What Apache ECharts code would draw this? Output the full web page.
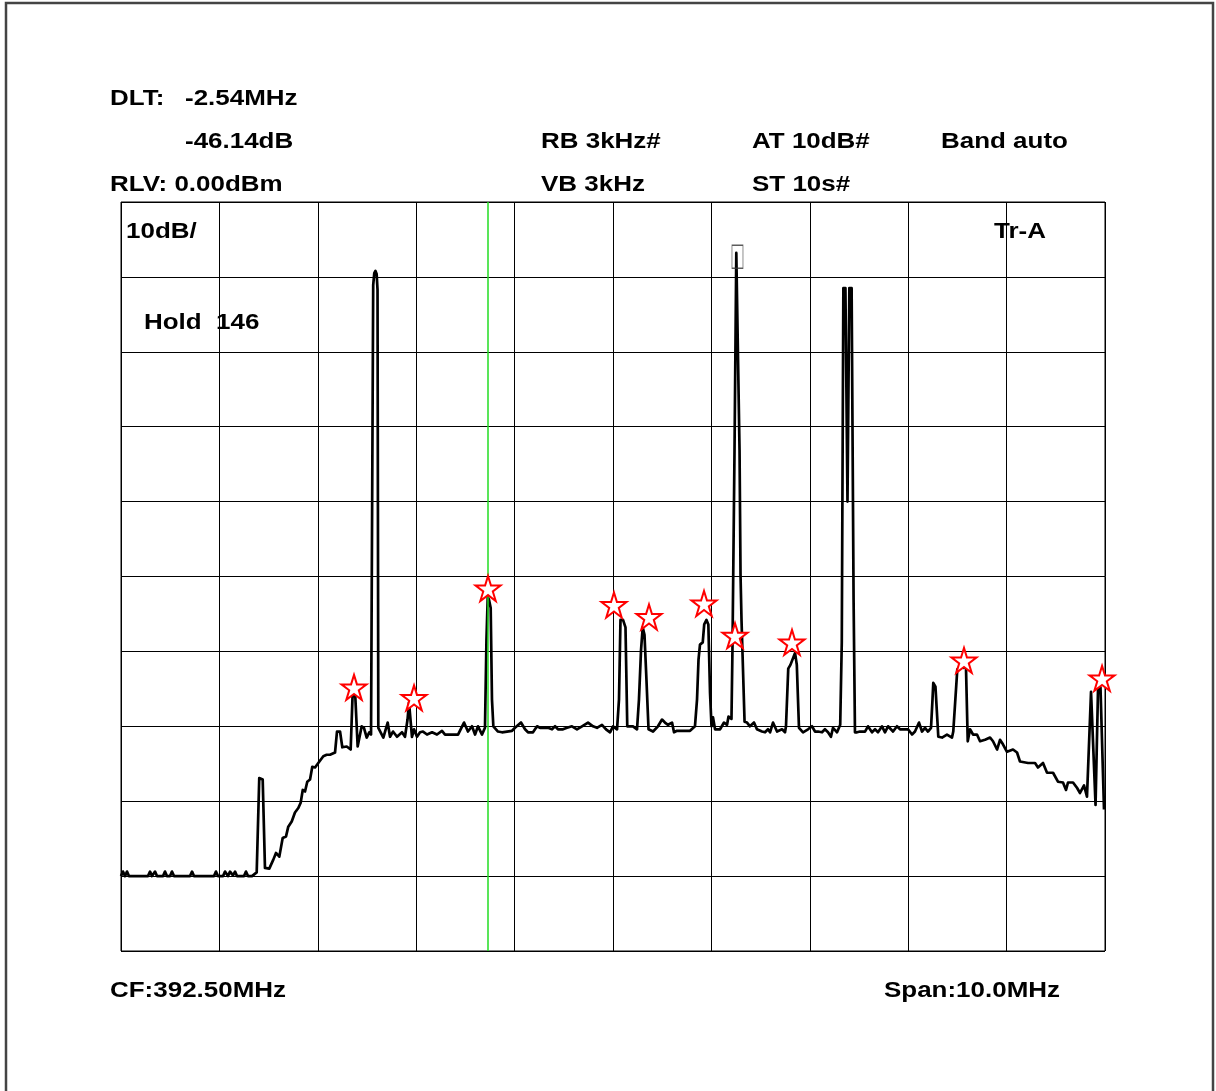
<!DOCTYPE html>
<html>
<head>
<meta charset="utf-8">
<script src="https://cdn.jsdelivr.net/npm/echarts@6/dist/echarts.min.js"></script>
<style>
html,body{margin:0;padding:0;background:#fff;}
#chart{width:1216px;height:1091px;}
</style>
</head>
<body>
<div id="chart"></div>
<script>
// ---- settings ----
const START_MHZ = 387.5;      // CF 392.50 MHz, span 10 MHz
const SPAN_MHZ = 10;
const REF_DBM = 0;
const DB_PER_DIV = 10;

// ---- trace (frequency in MHz, level in dBm) ----
const traceFreq = [
387.500,387.520,387.541,387.561,387.581,387.774,387.795,387.815,387.846,387.866,
387.927,387.947,387.967,387.998,388.018,388.039,388.201,388.222,388.242,388.445,
388.465,388.486,388.537,388.557,388.587,388.608,388.638,388.659,388.679,388.750,
388.770,388.791,388.831,388.879,388.905,388.940,388.963,389.007,389.048,389.075,
389.109,389.143,389.177,389.200,389.235,389.268,389.302,389.326,389.347,389.370,
389.393,389.421,389.444,389.472,389.505,389.556,389.590,389.624,389.675,389.695,
389.726,389.749,389.794,389.834,389.853,389.881,389.905,389.946,389.969,389.997,
390.023,390.041,390.054,390.063,390.074,390.086,390.098,390.107,390.115,390.166,
390.210,390.234,390.264,390.305,390.356,390.386,390.412,390.427,390.442,390.457,
390.478,390.508,390.539,390.569,390.610,390.661,390.711,390.762,390.793,390.925,
390.986,391.026,391.067,391.098,391.128,391.169,391.199,391.214,391.227,391.240,
391.257,391.270,391.284,391.301,391.331,391.372,391.423,391.474,391.504,391.565,
391.606,391.636,391.687,391.728,391.758,391.839,391.880,391.911,391.941,391.992,
392.033,392.083,392.134,392.185,392.246,392.297,392.337,392.388,392.429,392.470,
392.500,392.541,392.561,392.576,392.602,392.627,392.645,392.703,392.744,392.764,
392.785,392.802,392.820,392.840,392.861,392.907,392.957,392.998,393.028,393.059,
393.100,393.120,393.150,393.283,393.333,393.354,393.369,393.384,393.412,393.427,
393.450,393.469,393.486,393.501,393.516,393.537,393.588,393.628,393.659,393.674,
393.704,393.714,393.735,393.753,393.763,393.786,393.796,393.806,393.837,393.862,
393.892,393.933,393.963,394.014,394.045,394.075,394.096,394.126,394.167,394.218,
394.248,394.258,394.281,394.303,394.350,394.368,394.390,394.406,394.431,394.482,
394.522,394.553,394.583,394.624,394.654,394.685,394.715,394.736,394.777,394.797,
394.809,394.825,394.841,394.862,394.883,394.902,394.925,394.945,394.959,394.980,
395.010,395.061,395.091,395.132,395.163,395.193,395.234,395.264,395.295,395.346,
395.386,395.417,395.498,395.539,395.569,395.610,395.640,395.671,395.701,395.732,
395.747,395.755,395.777,395.806,395.844,395.894,395.945,395.958,395.999,396.026,
396.060,396.087,396.105,396.128,396.159,396.199,396.230,396.281,396.332,396.362,
396.403,396.433,396.463,396.504,396.565,396.606,396.636,396.718,396.789,396.819,
396.870,396.911,396.972,397.022,397.073,397.104,397.124,397.175,397.215,397.246,
397.287,397.317,397.337,397.358,397.378,397.404,397.429,397.454,397.490
];
const traceLevel = [
-90.0,-89.4,-90.0,-89.4,-90.0,-90.0,-89.4,-90.0,-89.4,-90.0,
-90.0,-89.4,-90.0,-90.0,-89.4,-90.0,-90.0,-89.4,-90.0,-90.0,
-89.4,-90.0,-90.0,-89.4,-90.0,-89.4,-89.9,-89.4,-90.0,-90.0,
-89.4,-90.0,-90.0,-89.5,-76.9,-77.1,-88.9,-89.0,-87.8,-86.9,
-87.4,-84.9,-84.7,-83.4,-82.7,-81.5,-80.9,-80.2,-78.5,-78.7,
-77.4,-77.1,-75.4,-75.5,-74.9,-74.0,-73.8,-73.8,-73.5,-70.7,
-70.7,-72.8,-72.7,-73.1,-66.0,-66.0,-72.7,-70.0,-70.2,-71.5,
-70.8,-71.1,-71.1,-11.1,-9.5,-9.2,-9.6,-11.7,-70.2,-71.5,
-69.5,-71.4,-70.7,-71.4,-70.8,-71.4,-69.1,-66.8,-66.8,-71.4,
-70.4,-71.4,-70.8,-70.7,-71.1,-70.8,-71.1,-70.6,-71.1,-71.1,
-69.5,-70.7,-70.0,-71.1,-70.0,-71.1,-70.2,-58.4,-52.7,-53.1,
-54.2,-66.4,-70.0,-70.0,-70.7,-70.8,-70.7,-70.6,-70.2,-69.5,
-70.4,-70.8,-70.8,-70.0,-70.2,-70.2,-70.4,-70.0,-70.4,-70.4,
-70.2,-70.0,-70.4,-70.0,-69.5,-70.0,-70.2,-69.8,-70.4,-70.8,
-70.0,-70.4,-66.4,-55.8,-55.8,-56.8,-70.0,-70.0,-70.4,-66.4,
-59.8,-56.8,-57.8,-63.8,-70.4,-70.7,-70.0,-69.1,-69.5,-69.8,
-69.5,-70.8,-70.6,-70.6,-70.0,-66.4,-61.1,-59.1,-58.8,-56.4,
-55.8,-56.4,-65.5,-70.0,-68.8,-70.4,-70.4,-69.5,-69.8,-68.7,
-69.0,-59.8,-33.1,-6.8,-6.8,-33.1,-49.8,-55.8,-69.4,-69.5,
-70.0,-69.5,-70.4,-70.7,-70.8,-70.4,-70.8,-69.5,-70.7,-70.4,
-70.8,-70.0,-62.3,-61.8,-60.2,-61.8,-70.2,-70.4,-70.8,-70.4,
-70.0,-70.7,-70.7,-70.8,-70.4,-70.8,-71.4,-70.2,-70.8,-70.7,
-69.8,-58.8,-11.5,-11.5,-40.0,-11.5,-11.5,-53.1,-70.8,-70.8,
-70.7,-70.7,-70.0,-70.8,-70.4,-70.8,-70.0,-70.8,-70.0,-70.7,
-70.0,-70.4,-70.4,-71.1,-70.7,-69.5,-70.7,-70.2,-70.7,-70.2,
-66.4,-64.2,-64.7,-71.4,-71.5,-71.1,-71.5,-70.7,-62.4,-62.0,
-62.2,-62.0,-72.0,-70.4,-71.1,-71.1,-72.0,-71.8,-71.5,-72.0,
-73.1,-71.8,-72.4,-73.4,-73.1,-73.5,-74.7,-74.9,-74.9,-75.5,
-74.9,-76.2,-76.2,-77.4,-77.5,-78.5,-77.5,-77.5,-78.2,-78.9,
-77.9,-79.4,-79.5,-65.4,-65.5,-80.5,-65.1,-64.8,-81.1
];

// ---- peak-search stars ----
const starFreq  = [389.868, 390.478, 391.230, 392.510, 392.866, 393.425, 393.740, 394.319, 396.067, 397.470];
const starLevel = [-64.8,   -66.2,   -51.6,   -53.8,   -55.4,   -53.6,   -57.9,   -58.8,   -61.2,   -63.6];

// ---- markers ----
const mainMarker = [393.765, -7.3];   // boxed peak
const deltaMarkerFreq = 391.230;      // green line

// ---- screen texts ----
const headerTexts = ['DLT:', '-2.54MHz', '-46.14dB', 'RLV: 0.00dBm', 'RB 3kHz#', 'VB 3kHz', 'AT 10dB#', 'ST 10s#', 'Band auto'];
const screenTexts = ['10dB/', 'Tr-A', 'Hold  146'];
const footerTexts = ['CF:392.50MHz', 'Span:10.0MHz'];

// ---- build ----
const rel = f => +(f - START_MHZ).toFixed(4);
const traceData = traceFreq.map((f, i) => [rel(f), traceLevel[i]]);
const starData = starFreq.map((f, i) => [rel(f), starLevel[i]]);

const FONT = 'bold 22px "Liberation Sans", Arial, Helvetica, sans-serif';
function txt(str, x, y) {
  return { type: 'text', x: x, y: y + 2, scaleX: 1.18, z: 100,
    style: { text: str, font: FONT, fill: '#000', align: 'left', verticalAlign: 'middle' } };
}
const starPath = 'path://M50,2 L61.2,36.4 L97.6,36.4 L68.2,57.6 L79.4,92 L50,70.8 L20.6,92 L31.8,57.6 L2.4,36.4 L38.8,36.4 Z';

const chart = echarts.init(document.getElementById('chart'), null, { renderer: 'canvas' });
chart.setOption({
  animation: false,
  backgroundColor: '#fff',
  grid: { left: 121, top: 202, width: 984, height: 749, show: true, borderColor: '#000', borderWidth: 1, backgroundColor: 'transparent' },
  xAxis: {
    type: 'value', min: 0, max: SPAN_MHZ, interval: 1,
    axisLine: { show: false }, axisTick: { show: false }, axisLabel: { show: false },
    splitLine: { show: true, lineStyle: { color: '#000', width: 1 } }
  },
  yAxis: {
    type: 'value', min: REF_DBM - 10 * DB_PER_DIV, max: REF_DBM, interval: DB_PER_DIV,
    axisLine: { show: false }, axisTick: { show: false }, axisLabel: { show: false },
    splitLine: { show: true, lineStyle: { color: '#000', width: 1 } }
  },
  series: [
    {
      type: 'line', data: traceData, showSymbol: false, symbol: 'none', smooth: false,
      lineStyle: { color: '#000', width: 2.7, join: 'round' }, z: 3, silent: true,
      markLine: {
        silent: true, symbol: 'none', animation: false,
        label: { show: false },
        lineStyle: { color: '#22dd22', width: 1.5, type: 'solid' },
        data: [{ xAxis: rel(deltaMarkerFreq) }]
      }
    },
    {
      type: 'scatter', data: starData, symbol: starPath, symbolSize: 25, z: 5, silent: true,
      itemStyle: { color: '#fff', borderColor: '#ff0000', borderWidth: 2, opacity: 1 }
    },
    {
      type: 'scatter', data: [[rel(mainMarker[0]), mainMarker[1]]], symbol: 'rect', symbolSize: [11, 23], z: 4, silent: true,
      itemStyle: { color: 'rgba(0,0,0,0)', borderColor: '#333', borderWidth: 1 }
    }
  ],
  graphic: [
    { type: 'rect', shape: { x: 6, y: 3, width: 1207, height: 1120 }, style: { fill: 'none', stroke: '#444', lineWidth: 2.5 }, z: 0, silent: true },
    txt(headerTexts[0], 110, 97),
    txt(headerTexts[1], 185, 97),
    txt(headerTexts[2], 185, 140),
    txt(headerTexts[3], 110, 183),
    txt(headerTexts[4], 541, 140),
    txt(headerTexts[5], 541, 183),
    txt(headerTexts[6], 752, 140),
    txt(headerTexts[7], 752, 183),
    txt(headerTexts[8], 941, 140),
    txt(screenTexts[0], 126, 230),
    txt(screenTexts[1], 994, 230),
    txt(screenTexts[2], 144, 321),
    txt(footerTexts[0], 110, 989),
    txt(footerTexts[1], 884, 989)
  ]
});
</script>
</body>
</html>
